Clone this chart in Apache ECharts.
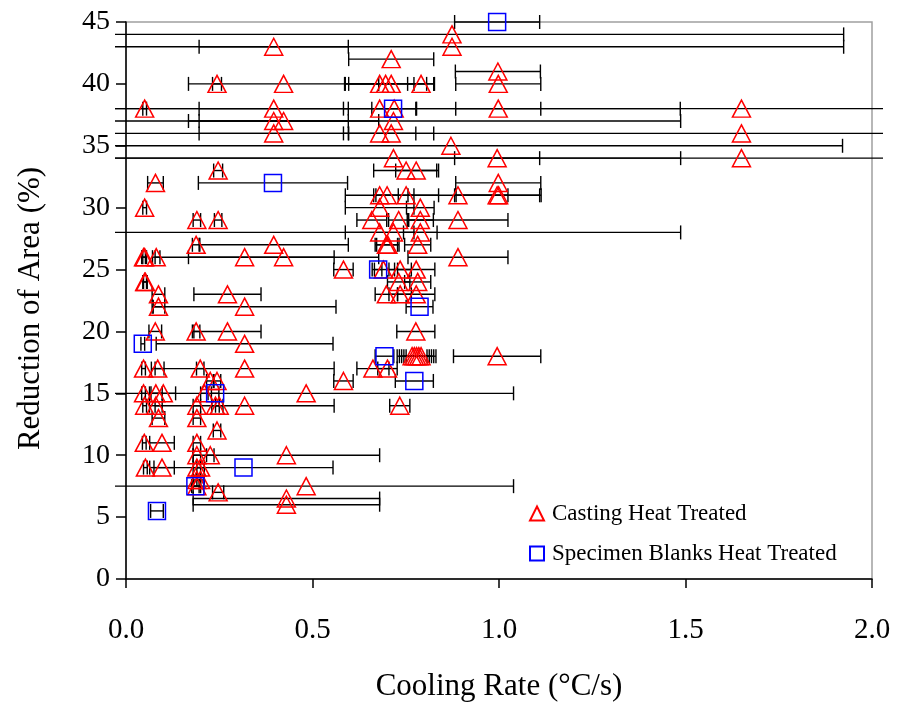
<!DOCTYPE html>
<html>
<head>
<meta charset="utf-8">
<script src="https://cdn.jsdelivr.net/npm/echarts@6/dist/echarts.min.js"></script>
<style>
  html, body { margin: 0; padding: 0; background: #fff; }
  #chart { width: 898px; height: 707px; }
</style>
</head>
<body>
<div id="chart"></div>
<script>
// Casting heat treated: cooling rate (°C/s), reduction of area (%), cooling-rate uncertainty (± °C/s)
const castX = [
  0.874, 0.874, 0.396, 0.711, 0.997,
  0.244, 0.4225, 0.68, 0.696, 0.711, 0.791, 0.998,
  0.05, 0.396, 0.68, 0.719, 0.998, 1.65,
  0.396, 0.4225, 0.717,
  0.396, 0.68, 0.711, 1.65,
  0.871,
  0.717, 0.995, 1.65,
  0.247, 0.751, 0.778,
  0.079, 0.998,
  0.68, 0.70, 0.751, 0.89, 0.995, 0.999,
  0.05, 0.68, 0.789,
  0.19, 0.247, 0.659, 0.731, 0.789, 0.89,
  0.68, 0.717, 0.789,
  0.188, 0.396, 0.698, 0.702, 0.782,
  0.047, 0.05, 0.081, 0.318, 0.4225, 0.89,
  0.583, 0.69, 0.735, 0.778,
  0.05, 0.052, 0.731, 0.782,
  0.087, 0.272, 0.698, 0.735, 0.778,
  0.087, 0.318,
  0.0785, 0.188, 0.272, 0.777,
  0.318,
  0.767, 0.773, 0.779, 0.785, 0.791, 0.995,
  0.047, 0.085, 0.199, 0.318, 0.662, 0.701,
  0.226, 0.244, 0.583,
  0.047, 0.08, 0.1, 0.21, 0.483,
  0.05, 0.08, 0.19, 0.24, 0.25, 0.318, 0.734,
  0.087, 0.19,
  0.244,
  0.049, 0.0965, 0.19,
  0.19, 0.226, 0.43,
  0.052, 0.0965, 0.19, 0.2,
  0.19, 0.2,
  0.483, 0.19,
  0.247,
  0.43,
  0.43
];
const castY = [
  44, 43, 43, 42, 41,
  40, 40, 40, 40, 40, 40, 40,
  38, 38, 38, 38, 38, 38,
  37, 37, 37,
  36, 36, 36, 36,
  35,
  34, 34, 34,
  33, 33, 33,
  32, 32,
  31, 31, 31, 31, 31, 31,
  30, 30, 30,
  29, 29, 29, 29, 29, 29,
  28, 28, 28,
  27, 27, 27, 27, 27,
  26, 26, 26, 26, 26, 26,
  25, 25, 25, 25,
  24, 24, 24, 24,
  23, 23, 23, 23, 23,
  22, 22,
  20, 20, 20, 20,
  19,
  18, 18, 18, 18, 18, 18,
  17, 17, 17, 17, 17, 17,
  16, 16, 16,
  15, 15, 15, 15, 15,
  14, 14, 14, 14, 14, 14, 14,
  13, 13,
  12,
  11, 11, 11,
  10, 10, 10,
  9, 9, 9, 9,
  8, 8,
  7.5, 7.5,
  7,
  6.5,
  6
];
const castErr = [
  1.05, 1.05, 0.2, 0.114, 0.114,
  0.012, 0.255, 0.092, 0.11, 0.114, 0.036, 0.114,
  0.005, 0.2, 0.097, 0.06, 0.114, 1.8,
  0.2, 0.255, 0.77,
  0.2, 0.097, 0.114, 1.8,
  1.05,
  0.77, 0.114, 1.8,
  0.012, 0.087, 0.055,
  0.021, 0.114,
  0.092, 0.03, 0.087, 0.134, 0.114, 0.114,
  0.005, 0.092, 0.037,
  0.01, 0.01, 0.04, 0.027, 0.035, 0.134,
  0.092, 0.77, 0.045,
  0.01, 0.2, 0.03, 0.03, 0.035,
  0.005, 0.005, 0.01, 0.24, 0.255, 0.134,
  0.026, 0.03, 0.03, 0.05,
  0.005, 0.005, 0.03, 0.035,
  0.017, 0.09, 0.03, 0.03, 0.05,
  0.017, 0.245,
  0.017, 0.01, 0.09, 0.051,
  0.237,
  0.04, 0.04, 0.04, 0.04, 0.04, 0.117,
  0.005, 0.017, 0.01, 0.24, 0.043, 0.026,
  0.01, 0.01, 0.026,
  0.005, 0.017, 0.033, 0.01, 0.556,
  0.005, 0.017, 0.01, 0.01, 0.01, 0.24, 0.027,
  0.017, 0.01,
  0.01,
  0.005, 0.033, 0.01,
  0.01, 0.01, 0.25,
  0.005, 0.033, 0.01, 0.01,
  0.01, 0.01,
  0.556, 0.01,
  0.015,
  0.25,
  0.25
];

// Specimen blanks heat treated
const blankX   = [0.995, 0.716, 0.394, 0.676, 0.787, 0.045, 0.693, 0.773, 0.239, 0.315, 0.186, 0.083];
const blankY   = [45, 38, 32, 25, 22, 19, 18, 16, 15, 9, 7.5, 5.5];
const blankErr = [0.114, 0.77, 0.2, 0.01, 0.036, 0.005, 0.025, 0.051, 0.01, 0.24, 0.01, 0.017];

const seriesNames = ['Casting Heat Treated', 'Specimen Blanks Heat Treated'];
const xTicks = { min: 0, max: 2, step: 0.5 };
const yTicks = { min: 0, max: 45, step: 5 };

const FONT = 'Liberation Serif';
const pairs = (xs, ys) => xs.map((x, i) => [x, ys[i]]);
const triples = (xs, ys, es) => xs.map((x, i) => [x, ys[i], es[i]]);

// Horizontal error bars with end caps; bars may run a little past the plot frame.
function errorBarSeries(name, xs, ys, es) {
  return {
    name: name + ' err',
    type: 'custom',
    silent: true,
    clip: false,
    z: 1,
    data: triples(xs, ys, es),
    encode: { x: 0, y: 1 },
    renderItem(params, api) {
      const x = api.value(0), y = api.value(1), e = api.value(2);
      const lo = api.coord([x - e, y]);
      const hi = api.coord([x + e, y]);
      const cs = params.coordSys;
      const minX = cs.x - 11, maxX = cs.x + cs.width + 11;
      const x1 = Math.max(lo[0], minX), x2 = Math.min(hi[0], maxX);
      const py = lo[1];
      const st = { stroke: '#000', lineWidth: 1.4 };
      const kids = [{ type: 'line', shape: { x1: x1, y1: py, x2: x2, y2: py }, style: st }];
      if (lo[0] >= minX) kids.push({ type: 'line', shape: { x1: lo[0], y1: py - 7, x2: lo[0], y2: py + 7 }, style: st });
      if (hi[0] <= maxX) kids.push({ type: 'line', shape: { x1: hi[0], y1: py - 7, x2: hi[0], y2: py + 7 }, style: st });
      return { type: 'group', children: kids };
    }
  };
}

const chart = echarts.init(document.getElementById('chart'), null, { renderer: 'canvas' });
chart.setOption({
  animation: false,
  backgroundColor: '#fff',
  grid: {
    left: 126, right: 26, top: 22, bottom: 126,
    show: true, borderColor: '#a0a0a0', borderWidth: 1.5, backgroundColor: 'transparent'
  },
  legend: {
    orient: 'vertical',
    left: 524, top: 497,
    itemWidth: 14, itemHeight: 14, itemGap: 17,
    textStyle: { fontFamily: FONT, fontSize: 23, color: '#000', padding: [0, 0, 0, 3] },
    data: [
      { name: seriesNames[0], icon: 'triangle' },
      { name: seriesNames[1], icon: 'rect' }
    ]
  },
  xAxis: {
    type: 'value', min: xTicks.min, max: xTicks.max, interval: xTicks.step,
    axisLine: { show: true, onZero: false, lineStyle: { color: '#000', width: 1.5 } },
    axisTick: { show: true, inside: false, length: 9, lineStyle: { color: '#000', width: 1.5 } },
    splitLine: { show: false },
    axisLabel: {
      formatter: v => v.toFixed(1), showMinLabel: true, showMaxLabel: true,
      fontFamily: FONT, fontSize: 29, color: '#000', margin: 37
    },
    name: 'Cooling Rate (°C/s)', nameLocation: 'middle', nameGap: 92,
    nameTextStyle: { fontFamily: FONT, fontSize: 31, color: '#000' }
  },
  yAxis: {
    type: 'value', min: yTicks.min, max: yTicks.max, interval: yTicks.step,
    axisLine: { show: true, onZero: false, lineStyle: { color: '#000', width: 1.5 } },
    axisTick: { show: true, inside: false, length: 10, lineStyle: { color: '#000', width: 1.5 } },
    splitLine: { show: false },
    axisLabel: { fontFamily: FONT, fontSize: 28, color: '#000', margin: 16 },
    name: 'Reduction of Area (%)', nameLocation: 'middle', nameGap: 80,
    nameTextStyle: { fontFamily: FONT, fontSize: 31, color: '#000', padding: [0, 16, 0, 0] }
  },
  series: [
    errorBarSeries(seriesNames[0], castX, castY, castErr),
    errorBarSeries(seriesNames[1], blankX, blankY, blankErr),
    {
      name: seriesNames[0], type: 'scatter', z: 3,
      symbol: 'triangle', symbolSize: [18, 17],
      itemStyle: { color: 'rgba(255,255,255,0)', borderColor: '#ff0000', borderWidth: 1.5, opacity: 1 },
      data: pairs(castX, castY)
    },
    {
      name: seriesNames[1], type: 'scatter', z: 4,
      symbol: 'rect', symbolSize: 17,
      itemStyle: { color: 'rgba(255,255,255,0)', borderColor: '#0000ff', borderWidth: 1.5, opacity: 1 },
      data: pairs(blankX, blankY)
    }
  ]
});
</script>
</body>
</html>
